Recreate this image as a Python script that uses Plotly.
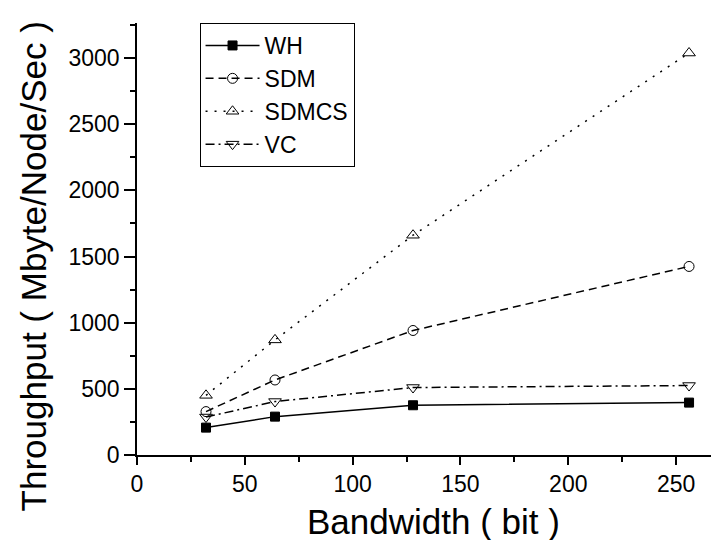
import plotly.graph_objects as go

bandwidth = [32, 64, 128, 256]
wh = [207, 290, 376, 396]
sdm = [328, 567, 941, 1425]
sdmcs = [451, 870, 1661, 3038]
vc = [287, 404, 510, 525]

FONT = "Arial, Liberation Sans, sans-serif"

fig = go.Figure()
series = [
    ("WH", wh, "solid", dict(symbol="square", size=9, color="black", line=dict(color="black", width=1))),
    ("SDM", sdm, "8px,5px", dict(symbol="circle-open", size=10, color="black", line=dict(color="black", width=1))),
    ("SDMCS", sdmcs, "2px,7px", dict(symbol="triangle-up-open", size=11, color="black", line=dict(color="black", width=1))),
    ("VC", vc, "9px,4px,2px,4px", dict(symbol="triangle-down-open", size=11, color="black", line=dict(color="black", width=1))),
]
for name, ys, dash, marker in series:
    fig.add_trace(go.Scatter(
        x=bandwidth, y=ys, name=name, mode="lines+markers",
        line=dict(color="black", width=1.5, dash=dash),
        marker=marker,
    ))

axis_common = dict(
    showgrid=False, zeroline=False, showline=True, linecolor="black", linewidth=1.5,
    ticks="outside", tickcolor="black", tickwidth=1.5,
    tickfont=dict(family=FONT, size=23, color="black"),
)
fig.update_xaxes(range=[0, 273.6], dtick=50, tick0=0, ticklen=8,
                 minor=dict(dtick=25, ticks="outside", ticklen=5, tickcolor="black", tickwidth=1.5),
                 **axis_common)
fig.update_yaxes(range=[0, 3265], dtick=500, tick0=0, ticklen=11,
                 minor=dict(dtick=250, ticks="outside", ticklen=5, tickcolor="black", tickwidth=1.5),
                 **axis_common)

fig.add_annotation(text="Bandwidth ( bit )", xref="paper", yref="paper",
                   x=0.503, y=-0.1536, xanchor="center", yanchor="middle", showarrow=False,
                   font=dict(family=FONT, size=35, color="black"))
fig.add_annotation(text="Throughput ( Mbyte/Node/Sec )", xref="paper", yref="paper",
                   x=-0.175, y=0.436, xanchor="center", yanchor="middle", showarrow=False,
                   textangle=-90, font=dict(family=FONT, size=35, color="black"))

fig.update_layout(
    width=719, height=540,
    margin=dict(l=129, r=0, t=15, b=93),
    plot_bgcolor="white", paper_bgcolor="white",
    showlegend=True,
    legend=dict(x=0.106, y=1.0, xanchor="left", yanchor="top",
                bordercolor="black", borderwidth=1, bgcolor="white",
                font=dict(family=FONT, size=23, color="black"),
                itemwidth=54, tracegroupgap=0),
)

fig.write_html("out.html")
